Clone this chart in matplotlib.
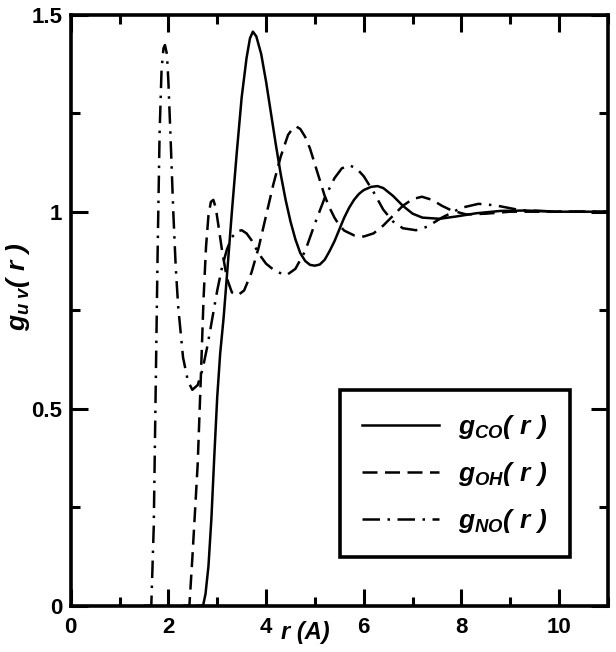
import numpy as np
import matplotlib
matplotlib.use("Agg")
import matplotlib.pyplot as plt
from matplotlib.ticker import MultipleLocator

plt.rcParams['font.family'] = ['Liberation Sans', 'DejaVu Sans']
plt.rcParams['font.weight'] = 'bold'
plt.rcParams['mathtext.fontset'] = 'custom'
plt.rcParams['mathtext.it'] = 'Liberation Sans:italic:bold'
plt.rcParams['mathtext.rm'] = 'Liberation Sans:italic:bold'
plt.rcParams['mathtext.bf'] = 'Liberation Sans:bold'

# g_CO(r)
r_co = [2.6, 2.71, 2.76, 2.82, 2.88, 2.94, 3.0, 3.06, 3.13, 3.2, 3.3, 3.4, 3.5, 3.6, 3.67, 3.73, 3.8, 3.9,
        4.0, 4.1, 4.2, 4.3, 4.4, 4.5, 4.6, 4.7, 4.8, 4.9, 5.0, 5.1, 5.2, 5.3, 5.4, 5.5, 5.6, 5.7, 5.8, 5.9, 6.0,
        6.15, 6.28, 6.4, 6.6, 6.8, 7.0, 7.2, 7.55, 7.9, 8.3, 8.8, 9.3, 10.0, 11.0]
g_co = [0.0, 0.0, 0.03, 0.1, 0.22, 0.38, 0.53, 0.64, 0.73, 0.84, 1.0, 1.15, 1.29, 1.39, 1.44, 1.457, 1.445, 1.40,
        1.33, 1.25, 1.17, 1.095, 1.03, 0.975, 0.93, 0.895, 0.875, 0.865, 0.863, 0.866, 0.878, 0.9, 0.925, 0.955, 0.985, 1.01, 1.03, 1.045, 1.055,
        1.063, 1.065, 1.06, 1.04, 1.015, 0.995, 0.985, 0.982, 0.988, 0.996, 1.002, 1.003, 1.0, 1.0]

# g_OH(r)
r_oh = [2.3, 2.43, 2.49, 2.55, 2.6, 2.67, 2.72, 2.77, 2.82, 2.87, 2.92, 2.97, 3.03, 3.1, 3.2, 3.3, 3.42,
        3.55, 3.7, 3.85, 4.0, 4.15, 4.3, 4.45, 4.55, 4.62, 4.7, 4.8, 4.9, 5.0, 5.1, 5.2, 5.3, 5.4,
        5.5, 5.6, 5.8, 6.0, 6.2, 6.4, 6.6, 6.8, 7.0, 7.19, 7.4, 7.6, 7.8, 8.1, 8.5, 9.0, 10.0, 11.0]
g_oh = [0.0, 0.0, 0.12, 0.25, 0.36, 0.6, 0.78, 0.91, 0.99, 1.025, 1.03, 1.01, 0.96, 0.9, 0.83, 0.795, 0.788,
        0.80, 0.845, 0.91, 0.99, 1.07, 1.14, 1.195, 1.212, 1.216, 1.21, 1.19, 1.16, 1.12, 1.08, 1.04, 1.01, 0.985,
        0.965, 0.952, 0.94, 0.937, 0.945, 0.965, 0.99, 1.015, 1.032, 1.038, 1.03, 1.015, 1.003, 0.993, 0.995, 1.0, 1.0, 1.0]

# g_NO(r)
r_no = [1.5, 1.65, 1.7, 1.74, 1.78, 1.82, 1.86, 1.9, 1.93, 1.97, 2.0, 2.05, 2.1, 2.15, 2.2, 2.3,
        2.4, 2.49, 2.6, 2.7, 2.8, 2.9, 3.0, 3.1, 3.2, 3.3, 3.4, 3.5, 3.6, 3.7, 3.8, 3.9, 4.0,
        4.2, 4.42, 4.6, 4.8, 5.0, 5.2, 5.4, 5.55, 5.7, 5.85, 6.0, 6.2, 6.4, 6.6, 6.8,
        7.07, 7.3, 7.6, 8.0, 8.35, 8.7, 9.2, 10.0, 11.0]
g_no = [0.0, 0.0, 0.2, 0.55, 0.9, 1.2, 1.36, 1.415, 1.423, 1.40, 1.33, 1.17, 1.0, 0.86, 0.76, 0.63,
        0.57, 0.548, 0.56, 0.6, 0.66, 0.73, 0.80, 0.86, 0.905, 0.935, 0.95, 0.953, 0.945, 0.928, 0.905, 0.885, 0.868,
        0.848, 0.839, 0.855, 0.9, 0.97, 1.035, 1.085, 1.11, 1.118, 1.11, 1.09, 1.05, 1.005, 0.975, 0.958,
        0.953, 0.962, 0.985, 1.01, 1.02, 1.016, 1.004, 1.0, 1.0]

xticks = [0, 2, 4, 6, 8, 10]
yticks = [0, 0.5, 1, 1.5]
ytick_labels = ['0', '0.5', '1', '1.5']

fig = plt.figure(figsize=(6.16, 6.52), dpi=100)
ax = fig.add_axes([70.7 / 616, 1 - 605.7 / 652, 537.3 / 616, 591 / 652])

lw = 1.8
ax.plot(r_co, g_co, color='black', lw=lw, linestyle='-', label=r'$g_{CO}(\ r\ )$')
ax.plot(r_oh, g_oh, color='black', lw=lw, linestyle=(0, (6, 3)), label=r'$g_{OH}(\ r\ )$')
ax.plot(r_no, g_no, color='black', lw=lw, linestyle=(0, (7, 3, 1, 3)), label=r'$g_{NO}(\ r\ )$')

ax.set_xlim(0, 11)
ax.set_ylim(0, 1.5)
ax.set_xticks(xticks)
ax.set_yticks(yticks)
ax.set_yticklabels(ytick_labels)
ax.xaxis.set_minor_locator(MultipleLocator(1))
ax.yaxis.set_minor_locator(MultipleLocator(0.25))
ax.tick_params(which='both', direction='in', top=True, right=True, width=2.2)
ax.tick_params(which='major', length=12.5, labelsize=16)
ax.tick_params(axis='x', which='major', pad=8)
ax.tick_params(axis='y', which='major', pad=6)
ax.tick_params(which='minor', length=6.5)
for s in ax.spines.values():
    s.set_linewidth(2.6)

fig.text(305 / 616, 1 - 633 / 652, 'r (A)', fontsize=17, fontstyle='italic',
         fontweight='bold', ha='center', va='center')
fig.text(18 / 616, 1 - 287 / 652, r'$g_{u\ v}(\ r\ )$', fontsize=19, rotation=90,
         ha='center', va='center')

leg = ax.legend(loc='lower left', bbox_to_anchor=(0.501, 0.082), borderaxespad=0,
                fontsize=19, handlelength=2.9, handletextpad=0.72, labelspacing=0.72,
                borderpad=0.85, fancybox=False, framealpha=1, edgecolor='black')
leg.get_frame().set_linewidth(2.6)

fig.savefig('out.png', dpi=100)
